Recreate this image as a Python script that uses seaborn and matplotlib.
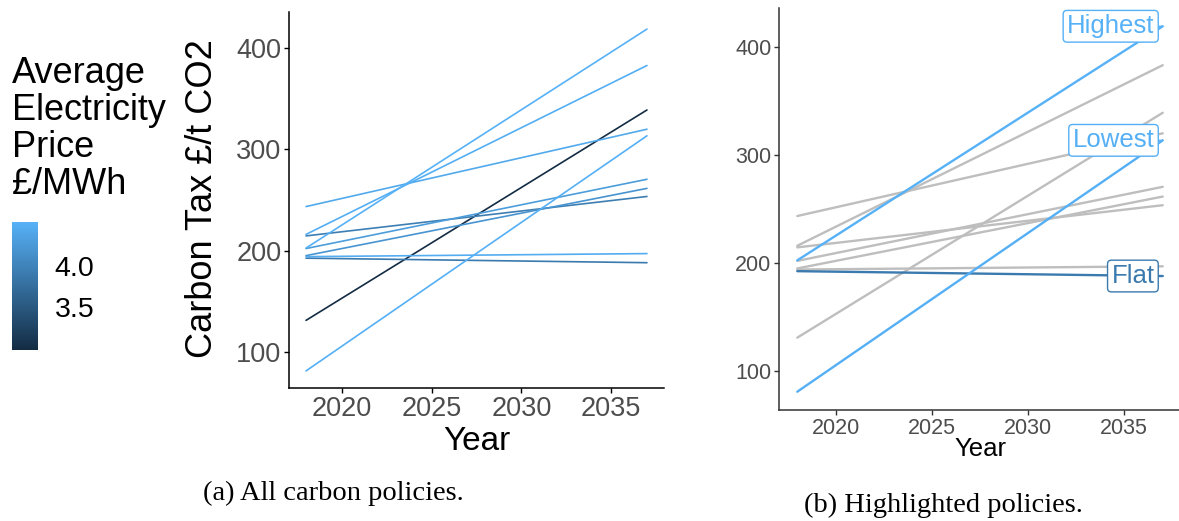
import numpy as np
import pandas as pd
import matplotlib
matplotlib.use("Agg")
import matplotlib.pyplot as plt
import seaborn as sns
from matplotlib.colors import LinearSegmentedColormap, Normalize
from matplotlib.cm import ScalarMappable

# one row per carbon policy: tax in 2018 and 2037, average electricity price
years = [2018, 2037]
tax_2018 = [243.5, 216, 202.5, 214.5, 202, 195, 194, 192.5, 131, 81]
tax_2037 = [320, 383, 419, 253.5, 270.5, 261.5, 197, 188, 339, 313.5]
avg_price = [4.45, 4.50, 4.54, 3.95, 4.30, 4.20, 4.48, 3.90, 2.97, 4.52]
highlight_ids = [2, 9, 7]
highlight_names = ["Highest", "Lowest", "Flat"]

n = len(tax_2018)
df = pd.DataFrame({
    "policy": np.repeat(np.arange(n), 2),
    "year": years * n,
    "tax": [v for pair in zip(tax_2018, tax_2037) for v in pair],
    "price": np.repeat(avg_price, 2),
})

sns.set_theme(style="ticks")
plt.rcParams["font.family"] = ["Liberation Sans", "DejaVu Sans"]
plt.rcParams["text.color"] = "black"

# ggplot2 default continuous colour scale
cmap = LinearSegmentedColormap.from_list("gg", ["#132B43", "#56B1F7"])
norm = Normalize(vmin=min(avg_price), vmax=max(avg_price))

W, H = 1179, 521
fig = plt.figure(figsize=(W / 100, H / 100), dpi=100)

def px_axes(x0, y0, x1, y1):
    return fig.add_axes([x0 / W, 1 - y1 / H, (x1 - x0) / W, (y1 - y0) / H])

ax1 = px_axes(289, 12, 664, 388)
ax2 = px_axes(779, 8, 1181, 410)
cax = px_axes(12, 222, 38, 350)

# (a) all policies coloured by price
sns.lineplot(data=df, x="year", y="tax", hue="price", units="policy",
             estimator=None, palette=cmap, hue_norm=norm, legend=False,
             lw=1.2, ax=ax1)

# (b) grey background, highlighted policies on top
rest = df[~df["policy"].isin(highlight_ids)]
hl = df[df["policy"].isin(highlight_ids)]
sns.lineplot(data=rest, x="year", y="tax", units="policy", estimator=None,
             color="#BEBEBE", lw=1.7, ax=ax2)
sns.lineplot(data=hl, x="year", y="tax", hue="price", units="policy",
             estimator=None, palette=cmap, hue_norm=norm, legend=False,
             lw=1.7, ax=ax2)

for pid, name in zip(highlight_ids, highlight_names):
    c = cmap(norm(avg_price[pid]))
    ax2.annotate(name, xy=(2037, tax_2037[pid]), xytext=(-6, 0),
                 textcoords="offset points", ha="right", va="center",
                 fontsize=18.5, color=c,
                 bbox=dict(boxstyle="round,pad=0.15", fc="white", ec=c, lw=1),
                 arrowprops=dict(arrowstyle="-", color=c, lw=1,
                                 shrinkA=0, shrinkB=0))

for ax, tick_fs, spine_c in [(ax1, 19.5, "black"), (ax2, 15.5, "#333333")]:
    ax.set_xlim(2017.05, 2037.95)
    ax.set_ylim(64.1, 435.9)
    ax.set_xticks([2020, 2025, 2030, 2035])
    ax.set_yticks([100, 200, 300, 400])
    sns.despine(ax=ax)
    for s in ["left", "bottom"]:
        ax.spines[s].set_color(spine_c)
        ax.spines[s].set_linewidth(1.1)
    ax.tick_params(labelsize=tick_fs, labelcolor="#4D4D4D", color=spine_c,
                   length=3.5, width=1, pad=2)
    ax.set_facecolor("white")

ax1.set_xlabel("Year", fontsize=24, color="black")
ax1.xaxis.label.set_va("center")
ax1.xaxis.set_label_coords(0.5, (388 - 441) / 376)
ax1.set_ylabel("Carbon Tax £/t CO2", fontsize=26, color="black")
ax1.yaxis.label.set_va("center")
ax1.yaxis.set_label_coords((203 - 289) / 375, 0.505)

ax2.set_xlabel("Year", fontsize=18.5, color="black")
ax2.xaxis.label.set_va("center")
ax2.xaxis.set_label_coords(0.5, (410 - 449) / 402)
ax2.set_ylabel("")

# colour bar legend
cb = fig.colorbar(ScalarMappable(norm=norm, cmap=cmap), cax=cax)
cb.outline.set_visible(False)
cb.set_ticks([3.5, 4.0])
cb.set_ticklabels(["3.5", "4.0"])
cb.ax.tick_params(direction="in", color="white", length=5, width=1,
                  left=True, right=True, labelsize=20.5, labelcolor="black",
                  pad=12)
fig.text(12 / W, 1 - 56 / H, "Average\nElectricity\nPrice\n£/MWh",
         fontsize=26, va="top", ha="left", linespacing=1.07, color="black")

# sub-figure captions
fig.text(333 / W, 1 - 493 / H, "(a) All carbon policies.",
         family=["Liberation Serif"], fontsize=20.5, ha="center", va="center")
fig.text(943 / W, 1 - 505 / H, "(b) Highlighted policies.",
         family=["Liberation Serif"], fontsize=20.5, ha="center", va="center")

fig.savefig("out.png", dpi=100, facecolor="white")
